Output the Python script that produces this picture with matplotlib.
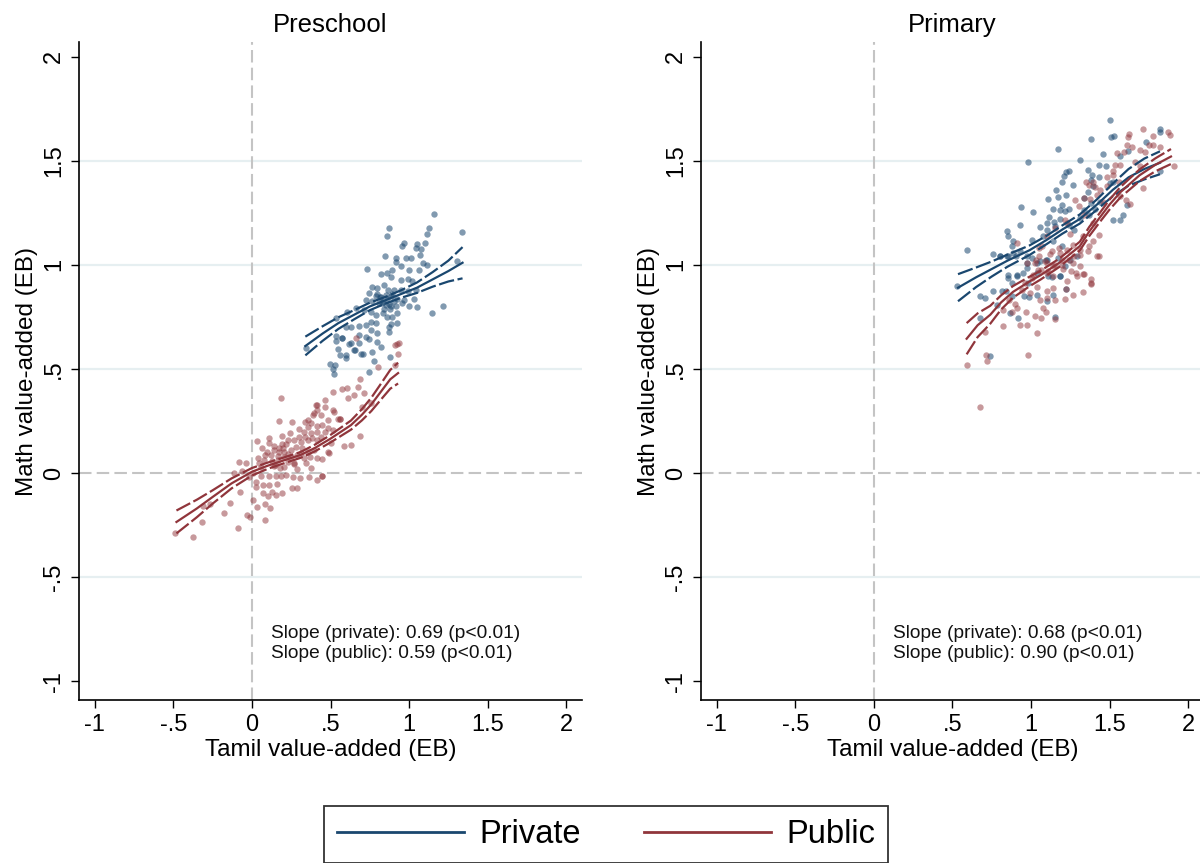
import matplotlib
matplotlib.use("Agg")
import matplotlib.pyplot as plt
from matplotlib.lines import Line2D
import numpy as np

plt.rcParams['font.family'] = ['Liberation Sans', 'DejaVu Sans']

NAVY = '#1a476f'
MAROON = '#90353b'

# ---------------- Preschool: scatter points (x = Tamil VA, y = Math VA) ----------------
pre_priv_x = [1.159, 0.873, 0.862, 1.127, 1.117, 1.339, 1.100, 0.968, 0.958, 1.053, 1.042, 1.074,
              0.848, 0.915, 0.979, 1.011, 1.070, 1.091, 1.117, 0.915, 0.894, 0.947, 1.000, 1.064,
              0.731, 0.820, 0.858, 0.884, 0.947, 0.990, 1.021, 0.767, 0.799, 0.841, 0.867, 0.905,
              0.947, 0.990, 1.042, 0.746, 0.788, 0.820, 0.852, 0.884, 0.926, 0.968, 1.032, 0.725,
              0.767, 0.809, 0.852, 0.884, 0.915, 0.958, 1.000, 1.049, 1.218, 1.144, 1.307, 0.608,
              0.661, 0.714, 0.757, 0.788, 0.831, 0.862, 0.894, 0.926, 0.534, 0.598, 0.629, 0.682,
              0.725, 0.757, 0.788, 0.884, 0.926, 0.873, 0.757, 0.799, 0.873, 0.682, 0.725, 0.746,
              0.682, 0.799, 0.820, 0.534, 0.576, 0.629, 0.545, 0.598, 0.650, 0.704, 0.767, 0.880,
              0.498, 0.528, 0.513, 0.523, 0.562, 0.598, 0.655, 0.693, 0.742, 0.778, 0.534, 0.570,
              0.619, 0.345, 0.836, 0.870, 0.812, 0.893, 0.842, 0.905, 0.795, 0.860, 0.878, 0.828]
pre_priv_y = [1.245, 1.176, 1.140, 1.176, 1.147, 1.157, 1.107, 1.104, 1.088, 1.099, 1.083, 1.075,
              1.040, 1.032, 1.032, 1.035, 1.047, 1.011, 0.997, 1.013, 0.976, 0.992, 0.976, 0.973,
              0.981, 0.957, 0.963, 0.940, 0.927, 0.931, 0.920, 0.893, 0.888, 0.904, 0.880, 0.877,
              0.880, 0.872, 0.880, 0.864, 0.848, 0.843, 0.856, 0.848, 0.835, 0.832, 0.837, 0.832,
              0.824, 0.816, 0.808, 0.800, 0.803, 0.816, 0.803, 0.795, 0.803, 0.768, 1.016, 0.772,
              0.791, 0.783, 0.775, 0.759, 0.767, 0.751, 0.748, 0.768, 0.743, 0.703, 0.703, 0.707,
              0.711, 0.727, 0.719, 0.716, 0.719, 0.703, 0.687, 0.674, 0.679, 0.663, 0.655, 0.642,
              0.623, 0.631, 0.607, 0.636, 0.647, 0.623, 0.594, 0.567, 0.591, 0.572, 0.583, 0.556,
              0.522, 0.519, 0.500, 0.476, 0.565, 0.551, 0.591, 0.572, 0.487, 0.540, 0.658, 0.647,
              0.620, 0.602, 0.822, 0.812, 0.845, 0.858, 0.790, 0.825, 0.862, 0.838, 0.786, 0.815]

pre_pub_x = [0.926, 0.911, 0.928, 0.913, 0.805, 0.687, 0.672, 0.608, 0.570, 0.513, 0.650, 0.612,
             0.710, 0.187, 0.464, 0.411, 0.464, 0.417, 0.513, 0.523, 0.396, 0.439, 0.354, 0.481,
             0.545, 0.562, 0.174, 0.254, 0.337, 0.375, 0.417, 0.449, 0.358, 0.481, 0.513, 0.464,
             0.413, 0.329, 0.189, 0.337, 0.375, 0.439, 0.301, 0.269, 0.312, 0.354, 0.227, 0.417,
             0.502, 0.587, 0.629, 0.110, 0.110, 0.030, 0.062, 0.138, 0.174, 0.206, 0.248, 0.280,
             0.312, 0.354, 0.396, 0.417, 0.443, 0.481, 0.371, 0.333, 0.290, 0.248, 0.206, 0.163,
             0.121, 0.083, 0.040, 0.074, 0.163, 0.227, 0.269, 0.343, 0.375, 0.206, 0.180, 0.142,
             -0.080, -0.038, 0.047, -0.112, -0.066, -0.017, 0.057, 0.110, 0.153, 0.184, 0.216, 0.259,
             0.307, 0.364, 0.413, 0.443, 0.025, 0.068, 0.110, 0.159, 0.252, 0.284, -0.074, 0.025,
             0.068, 0.100, 0.125, 0.153, 0.004, 0.032, 0.085, 0.117, -0.138, -0.267, -0.311, -0.180,
             -0.032, -0.011, 0.085, -0.318, -0.087, -0.487, -0.377, 0.407, 0.386, 0.562, 0.703,
             0.756, 0.492, 0.445, 0.191, 0.661, 0.937, 0.689, 0.095, 0.140, 0.200, 0.240, 0.300,
             0.060, 0.170, 0.130, 0.230, 0.320, 0.270, 0.190, 0.380, 0.010, 0.290, 0.220, 0.150]
pre_pub_y = [0.620, 0.615, 0.572, 0.519, 0.511, 0.450, 0.415, 0.407, 0.402, 0.391, 0.375, 0.359,
             0.383, 0.359, 0.351, 0.327, 0.319, 0.303, 0.303, 0.295, 0.287, 0.279, 0.255, 0.255,
             0.260, 0.258, 0.250, 0.247, 0.247, 0.239, 0.226, 0.231, 0.219, 0.215, 0.207, 0.199,
             0.199, 0.199, 0.178, 0.175, 0.191, 0.175, 0.175, 0.158, 0.150, 0.158, 0.158, 0.158,
             0.143, 0.130, 0.134, 0.167, 0.143, 0.154, 0.119, 0.111, 0.119, 0.102, 0.111, 0.126,
             0.094, 0.102, 0.111, 0.070, 0.066, 0.102, 0.078, 0.070, 0.086, 0.075, 0.078, 0.082,
             0.086, 0.086, 0.070, 0.062, 0.062, 0.054, 0.043, 0.046, 0.022, 0.030, 0.022, 0.034,
             0.051, 0.046, 0.046, -0.002, 0.011, -0.018, -0.015, -0.015, -0.015, -0.015, -0.010, -0.018,
             -0.026, -0.021, -0.034, -0.015, -0.042, -0.058, -0.058, -0.053, -0.071, -0.071, -0.090, -0.066,
             -0.095, -0.111, -0.090, -0.106, -0.130, -0.165, -0.151, -0.170, -0.146, -0.149, -0.159, -0.194,
             -0.202, -0.210, -0.226, -0.234, -0.262, -0.290, -0.306, 0.327, 0.279, 0.258, 0.316,
             0.335, 0.098, -0.014, -0.095, 0.647, 0.623, 0.180, 0.100, 0.130, 0.120, 0.190, 0.210,
             0.030, 0.100, 0.060, 0.090, 0.120, 0.050, 0.140, 0.170, 0.000, 0.020, 0.140, 0.040]

# Preschool fitted local-polynomial lines: x grid, fit, CI half-width
pre_priv_fx = [0.34, 0.45, 0.55, 0.65, 0.75, 0.85, 0.95, 1.05, 1.15, 1.25, 1.34]
pre_priv_fy = [0.61, 0.67, 0.72, 0.76, 0.80, 0.83, 0.86, 0.89, 0.93, 0.97, 1.01]
pre_priv_hw = [0.045, 0.035, 0.028, 0.022, 0.018, 0.016, 0.018, 0.025, 0.035, 0.05, 0.075]

pre_pub_fx = [-0.48, -0.35, -0.25, -0.13, 0.0, 0.1, 0.2, 0.31, 0.4, 0.5, 0.63, 0.7, 0.76, 0.82, 0.88, 0.93]
pre_pub_fy = [-0.235, -0.17, -0.115, -0.05, 0.006, 0.035, 0.06, 0.087, 0.12, 0.165, 0.23, 0.28, 0.33, 0.39, 0.45, 0.48]
pre_pub_hw = [0.055, 0.042, 0.032, 0.024, 0.018, 0.015, 0.014, 0.014, 0.016, 0.018, 0.022, 0.027, 0.032, 0.038, 0.045, 0.05]

# ---------------- Primary ----------------
pri_priv_x = [1.499, 1.507, 1.528, 1.380, 1.168, 0.979, 1.312, 1.456, 1.223, 1.244, 1.210, 1.195,
              1.365, 1.386, 1.380, 1.429, 1.429, 1.478, 1.503, 1.524, 1.567, 1.614, 1.730, 1.822,
              1.822, 1.817, 1.265, 1.159, 1.223, 1.110, 1.174, 1.195, 1.142, 1.185, 1.216, 1.238,
              1.365, 1.337, 1.380, 1.337, 1.312, 1.371, 1.407, 1.439, 0.936, 1.015, 1.117, 1.146,
              1.185, 1.100, 1.057, 1.100, 1.153, 1.238, 1.270, 0.930, 0.849, 0.855, 0.887, 1.004,
              1.078, 1.142, 1.195, 0.877, 0.930, 0.972, 0.904, 0.845, 0.802, 0.760, 0.972, 1.004,
              1.057, 1.100, 1.174, 1.216, 1.248, 1.291, 0.590, 0.951, 1.036, 1.110, 0.855, 0.877,
              0.913, 0.983, 1.185, 1.567, 1.609, 1.584, 1.520, 1.397, 0.531, 0.675, 0.707, 0.760,
              0.802, 0.855, 0.887, 0.855, 0.908, 0.972, 0.813, 0.840, 0.877, 0.781, 0.675, 0.866,
              0.915, 0.955, 0.989, 1.036, 1.100, 1.142, 1.149, 1.221, 0.739, 1.095, 1.132, 1.185,
              1.036]
pri_priv_y = [1.697, 1.614, 1.617, 1.604, 1.556, 1.492, 1.502, 1.532, 1.444, 1.449, 1.428, 1.400,
              1.457, 1.433, 1.409, 1.420, 1.481, 1.473, 1.393, 1.396, 1.521, 1.545, 1.588, 1.652,
              1.636, 1.452, 1.385, 1.361, 1.337, 1.317, 1.325, 1.288, 1.269, 1.264, 1.256, 1.268,
              1.348, 1.320, 1.296, 1.264, 1.224, 1.240, 1.268, 1.304, 1.277, 1.253, 1.229, 1.204,
              1.219, 1.200, 1.181, 1.168, 1.184, 1.192, 1.168, 1.192, 1.160, 1.136, 1.112, 1.120,
              1.136, 1.112, 1.091, 1.088, 1.064, 1.040, 1.040, 1.040, 1.040, 1.053, 1.008, 1.032,
              1.016, 1.024, 1.032, 0.992, 1.024, 1.040, 1.072, 0.963, 0.960, 0.948, 0.952, 0.912,
              0.944, 0.912, 0.944, 1.216, 1.288, 1.240, 1.216, 1.380, 0.899, 0.852, 0.840, 0.876,
              1.043, 1.043, 1.056, 0.936, 0.952, 0.984, 0.872, 0.872, 0.848, 0.808, 0.743, 0.768,
              0.743, 0.848, 0.844, 0.855, 0.828, 0.855, 0.751, 0.883, 0.562, 1.024, 0.940, 0.944,
              1.008]

pri_pub_x = [1.626, 1.614, 1.709, 1.775, 1.753, 1.775, 1.817, 1.868, 1.881, 1.906, 1.609, 1.641,
             1.588, 1.545, 1.694, 1.726, 1.662, 1.690, 1.567, 1.535, 1.524, 1.711, 1.630, 1.350,
             1.397, 1.407, 1.371, 1.439, 1.337, 1.375, 1.418, 1.482, 1.567, 1.605, 1.280, 1.305,
             1.337, 1.397, 1.429, 1.397, 1.371, 1.333, 1.216, 1.227, 1.153, 1.100, 1.072, 1.131,
             1.185, 1.227, 1.269, 1.312, 1.276, 1.238, 1.195, 1.142, 1.089, 1.053, 1.025, 1.061,
             1.100, 1.142, 1.206, 1.252, 1.286, 1.333, 1.380, 1.308, 1.418, 0.909, 1.053, 0.594,
             0.675, 0.713, 0.718, 0.707, 0.819, 0.909, 0.972, 0.930, 0.979, 1.036, 1.025, 1.061,
             0.968, 0.898, 0.824, 0.877, 1.078, 1.095, 1.057, 1.100, 1.153, 1.153, 1.216, 1.223,
             1.265, 1.329, 1.380, 1.384, 1.337, 1.295, 1.227, 1.142, 1.100, 1.036, 0.993, 0.962,
             1.004, 1.047, 1.110, 1.153, 1.195, 1.269, 1.308, 1.365, 1.429, 1.100, 1.032, 0.972,
             1.480, 1.520, 1.460, 1.560, 1.250, 1.180, 1.120, 0.940, 0.860, 1.010]
pri_pub_y = [1.630, 1.614, 1.652, 1.620, 1.577, 1.577, 1.566, 1.636, 1.625, 1.473, 1.577, 1.566,
             1.540, 1.537, 1.550, 1.541, 1.492, 1.476, 1.481, 1.481, 1.433, 1.368, 1.293, 1.400,
             1.400, 1.373, 1.385, 1.360, 1.320, 1.316, 1.337, 1.380, 1.332, 1.313, 1.313, 1.280,
             1.240, 1.200, 1.141, 1.112, 1.088, 1.136, 1.216, 1.200, 1.176, 1.136, 1.091, 1.064,
             1.056, 1.072, 1.096, 1.072, 1.040, 1.024, 1.000, 0.992, 1.016, 1.040, 1.008, 0.976,
             0.960, 0.944, 0.979, 0.968, 0.960, 0.956, 0.915, 0.992, 1.040, 1.104, 1.080, 0.519,
             0.319, 0.567, 0.540, 0.679, 0.708, 0.792, 0.711, 0.711, 0.567, 0.671, 0.755, 0.743,
             0.775, 0.811, 0.784, 0.775, 0.792, 0.775, 0.832, 0.840, 0.832, 0.739, 0.835, 0.883,
             0.855, 0.867, 0.931, 0.908, 0.956, 0.944, 0.920, 0.888, 0.876, 0.892, 0.864, 0.912,
             0.936, 0.976, 0.968, 1.000, 1.024, 1.008, 1.048, 1.064, 1.040, 1.008, 1.024, 1.008,
             1.420, 1.450, 1.300, 1.400, 1.150, 1.080, 1.050, 0.880, 0.830, 0.950]

pri_priv_fx = [0.535, 0.65, 0.75, 0.85, 0.99, 1.1, 1.2, 1.31, 1.42, 1.52, 1.62, 1.72, 1.82]
pri_priv_fy = [0.89, 0.94, 0.98, 1.02, 1.07, 1.12, 1.17, 1.22, 1.29, 1.36, 1.42, 1.46, 1.49]
pri_priv_hw = [0.065, 0.047, 0.036, 0.029, 0.023, 0.02, 0.02, 0.022, 0.025, 0.03, 0.04, 0.05, 0.055]

pri_pub_fx = [0.59, 0.66, 0.74, 0.81, 0.885, 0.99, 1.06, 1.18, 1.31, 1.37, 1.44, 1.5, 1.57, 1.69, 1.79, 1.89]
pri_pub_fy = [0.645, 0.71, 0.76, 0.82, 0.87, 0.92, 0.95, 1.01, 1.09, 1.16, 1.23, 1.29, 1.35, 1.43, 1.48, 1.52]
pri_pub_hw = [0.075, 0.057, 0.043, 0.034, 0.028, 0.023, 0.021, 0.02, 0.021, 0.022, 0.022, 0.024, 0.025, 0.028, 0.031, 0.036]

titles = ["Preschool", "Primary"]
slope_texts = ["Slope (private): 0.69 (p<0.01)\nSlope (public): 0.59 (p<0.01)",
               "Slope (private): 0.68 (p<0.01)\nSlope (public): 0.90 (p<0.01)"]
xticks = [-1, -0.5, 0, 0.5, 1, 1.5, 2]
xticklabels = ["-1", "-.5", "0", ".5", "1", "1.5", "2"]
yticks = [-1, -0.5, 0, 0.5, 1, 1.5, 2]
yticklabels = ["-1", "-.5", "0", ".5", "1", "1.5", "2"]
legend_labels = ["Private", "Public"]

panels = [
    dict(priv=(pre_priv_x, pre_priv_y), pub=(pre_pub_x, pre_pub_y),
         privfit=(pre_priv_fx, pre_priv_fy, pre_priv_hw), pubfit=(pre_pub_fx, pre_pub_fy, pre_pub_hw)),
    dict(priv=(pri_priv_x, pri_priv_y), pub=(pri_pub_x, pri_pub_y),
         privfit=(pri_priv_fx, pri_priv_fy, pri_priv_hw), pubfit=(pri_pub_fx, pri_pub_fy, pri_pub_hw)),
]

W, H = 1200, 863
fig = plt.figure(figsize=(W / 100, H / 100), dpi=100)

ax_bottom = (H - 700) / H
ax_height = (700 - 42) / H
lefts = [79 / W, 701 / W]
ax_width = 503 / W

for i, p in enumerate(panels):
    ax = fig.add_axes([lefts[i], ax_bottom, ax_width, ax_height])
    ax.set_xlim(-1.1, 2.1)
    ax.set_ylim(-1.09, 2.07)

    for g in [-0.5, 0.5, 1, 1.5]:
        ax.axhline(g, color='#e6eff1', lw=1.6, zorder=0)
    ax.axhline(0, color='#c4c4c4', lw=1.5, dashes=(6, 2.5), zorder=0.5)
    ax.axvline(0, color='#c4c4c4', lw=1.5, dashes=(6, 2.5), zorder=0.5)

    ax.scatter(p['priv'][0], p['priv'][1], s=21, color=NAVY, alpha=0.55, linewidths=0, zorder=2)
    ax.scatter(p['pub'][0], p['pub'][1], s=21, color=MAROON, alpha=0.5, linewidths=0, zorder=2)

    for key, col in [('privfit', NAVY), ('pubfit', MAROON)]:
        fx, fy, hw = (np.array(a) for a in p[key])
        ax.plot(fx, fy, color=col, lw=1.6, zorder=3)
        ax.plot(fx, fy + hw, color=col, lw=1.6, dashes=(7, 1.6), zorder=3)
        ax.plot(fx, fy - hw, color=col, lw=1.6, dashes=(7, 1.6), zorder=3)

    ax.text(0.12, -0.82, slope_texts[i], fontsize=13.8, va='center', ha='left',
            linespacing=1.2, color='#111111')

    ax.set_xticks(xticks)
    ax.set_xticklabels(xticklabels)
    ax.set_yticks(yticks)
    ax.set_yticklabels(yticklabels, rotation=90, va='center')
    ax.tick_params(axis='both', direction='out', length=6, width=1, labelsize=17, pad=4)
    for s in ['top', 'right']:
        ax.spines[s].set_visible(False)
    for s in ['left', 'bottom']:
        ax.spines[s].set_linewidth(1.2)
    ax.set_xlabel("Tamil value-added (EB)", fontsize=17.5, labelpad=2)
    ax.set_ylabel("Math value-added (EB)", fontsize=17.5, labelpad=4)
    ax.set_title(titles[i], fontsize=18.5, pad=7)

handles = [Line2D([], [], color=NAVY, lw=2), Line2D([], [], color=MAROON, lw=2)]
leg = fig.legend(handles, legend_labels, loc='upper center', bbox_to_anchor=(0.505, (H - 806) / H),
                 ncol=2, fontsize=23.5, frameon=True, fancybox=False, edgecolor='black',
                 handlelength=3.9, handletextpad=0.46, columnspacing=1.93, borderpad=0.4,
                 borderaxespad=0)
leg.get_frame().set_linewidth(1.3)

fig.savefig("out.png", dpi=100)
